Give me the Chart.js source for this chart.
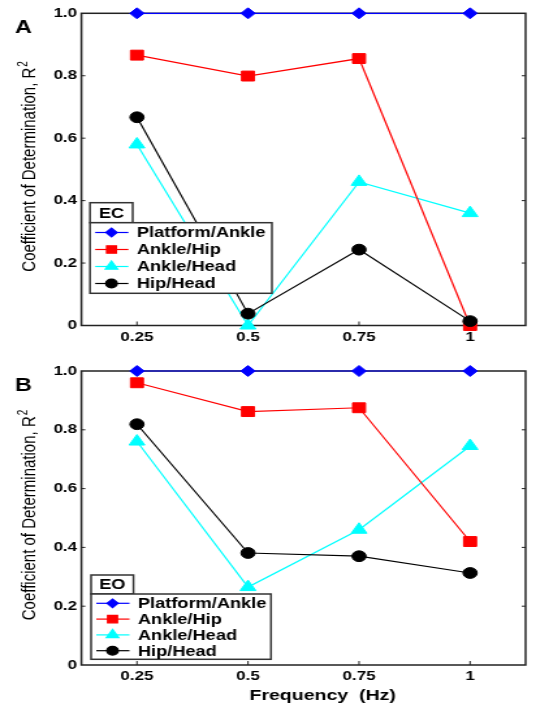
<!DOCTYPE html>
<html>
<head>
<meta charset="utf-8">
<script src="https://cdn.jsdelivr.net/npm/chart.js@4/dist/chart.umd.min.js"></script>
<style>
  html, body { margin: 0; padding: 0; background: #fff; }
  #wrap { position: relative; width: 536px; height: 706px; overflow: hidden; }
  canvas { position: absolute; left: 0; }
</style>
</head>
<body>
<div id="wrap">
  <canvas id="chartA" width="412" height="352" style="top:0;width:536px;height:352px"></canvas>
  <canvas id="chartB" width="412" height="354" style="top:352px;width:536px;height:354px"></canvas>
</div>
<script>
// data
var freqs = [0.25, 0.5, 0.75, 1];
var freqTickLabels = ['0.25', '0.5', '0.75', '1'];
var seriesNames = ['Platform/Ankle', 'Ankle/Hip', 'Ankle/Head', 'Hip/Head'];

// A: eyes closed
var ecPlatformAnkle = [1, 1, 1, 1];
var ecAnkleHip = [0.866, 0.799, 0.855, 0.0];
var ecAnkleHead = [0.58, 0.0, 0.46, 0.36];
var ecHipHead = [0.667, 0.038, 0.243, 0.014];

// B: eyes open
var eoPlatformAnkle = [1, 1, 1, 1];
var eoAnkleHip = [0.96, 0.862, 0.875, 0.42];
var eoAnkleHead = [0.76, 0.265, 0.46, 0.745];
var eoHipHead = [0.819, 0.381, 0.37, 0.313];

var seriesColors = ['#0000ff', '#ff0000', '#00ffff', '#000000'];
var seriesMarkers = ['rectRot', 'rect', 'triangle', 'circle'];
var markerSizes = [5.5, 7, 7, 5.4];
var legendMarkerSizes = [4.3, 5.3, 5.5, 4.4];
var drawOrder = [1, 2, 3, 0];

var FONT = '"Liberation Sans", Arial, Helvetica, sans-serif';
Chart.defaults.font.family = FONT;
Chart.defaults.color = '#000';

function makeDatasets(cols) {
    return seriesNames.map(function (name, i) {
        return {
            label: name,
            data: freqs.map(function (f, j) { return { x: f, y: cols[i][j] }; }),
            borderColor: seriesColors[i],
            backgroundColor: seriesColors[i],
            pointStyle: seriesMarkers[i],
            pointRadius: markerSizes[i],
            pointHoverRadius: markerSizes[i],
            pointBorderWidth: 1,
            borderWidth: 1.2,
            clip: false,
            order: drawOrder[i]
        };
    });
}

// frame + small inner ticks
var framePlugin = {
    id: 'frame',
    beforeDatasetsDraw: function (chart) {
        var a = chart.chartArea, ctx = chart.ctx;
        ctx.save();
        ctx.strokeStyle = '#222';
        ctx.lineWidth = 1.5;
        ctx.strokeRect(a.left, a.top, a.right - a.left, a.bottom - a.top);
        ctx.lineWidth = 1;
        chart.scales.y.ticks.forEach(function (t) {
            if (t.value <= 0 || t.value >= 1) return;
            var y = chart.scales.y.getPixelForValue(t.value);
            ctx.beginPath();
            ctx.moveTo(a.left, y); ctx.lineTo(a.left + 3, y);
            ctx.moveTo(a.right, y); ctx.lineTo(a.right - 3, y);
            ctx.stroke();
        });
        chart.scales.x.ticks.forEach(function (t) {
            var x = chart.scales.x.getPixelForValue(t.value);
            ctx.beginPath();
            ctx.moveTo(x, a.bottom); ctx.lineTo(x, a.bottom - 4);
            ctx.stroke();
        });
        ctx.restore();
    }
};

// panel letter, axis titles and boxed legend
var panelPlugin = {
    id: 'panel',
    afterDatasetsDraw: function (chart, args, opts) {
        var a = chart.chartArea, ctx = chart.ctx;
        ctx.save();
        ctx.fillStyle = '#000';

        ctx.font = 'bold 18px ' + FONT;
        ctx.textAlign = 'center';
        ctx.textBaseline = 'middle';
        ctx.fillText(opts.letter, 18, opts.letterY);

        // y title with superscript
        ctx.save();
        ctx.translate(23, (a.top + a.bottom) / 2 - 3);
        ctx.rotate(-Math.PI / 2);
        var main = 'Coefficient of Determination, R';
        ctx.font = '15px ' + FONT;
        var w1 = ctx.measureText(main).width;
        ctx.font = '10px ' + FONT;
        var w2 = ctx.measureText('2').width;
        var x0 = -(w1 + w2 + 1) / 2;
        ctx.textAlign = 'left';
        ctx.font = '15px ' + FONT;
        ctx.fillText(main, x0, 0);
        ctx.font = '10px ' + FONT;
        ctx.fillText('2', x0 + w1 + 1, -5);
        ctx.restore();

        if (opts.xTitle) {
            ctx.font = 'bold 15px ' + FONT;
            ctx.textAlign = 'center';
            ctx.fillText(opts.xTitle, 248, opts.xTitleY);
        }

        // legend
        var L = opts.legend;
        ctx.lineWidth = 1.5;
        ctx.strokeStyle = '#333';
        ctx.fillStyle = '#fff';
        ctx.fillRect(L.left, L.titleTop, L.titleRight - L.left, L.boxTop - L.titleTop);
        ctx.strokeRect(L.left, L.titleTop, L.titleRight - L.left, L.boxTop - L.titleTop);
        ctx.fillRect(L.left, L.boxTop, L.right - L.left, L.bottom - L.boxTop);
        ctx.strokeRect(L.left, L.boxTop, L.right - L.left, L.bottom - L.boxTop);
        ctx.fillStyle = '#000';
        ctx.font = 'bold 14px ' + FONT;
        ctx.textAlign = 'center';
        ctx.fillText(opts.title, (L.left + L.titleRight) / 2, (L.titleTop + L.boxTop) / 2 + 1);

        ctx.textAlign = 'left';
        chart.data.datasets.forEach(function (ds, i) {
            var y = L.boxTop + L.firstRow + i * L.rowGap;
            ctx.strokeStyle = ds.borderColor;
            ctx.lineWidth = 1.2;
            ctx.beginPath();
            ctx.moveTo(L.left + 4, y); ctx.lineTo(L.left + 29.5, y);
            ctx.stroke();
            ctx.fillStyle = ds.backgroundColor;
            Chart.helpers.drawPoint(ctx, {
                pointStyle: ds.pointStyle, radius: legendMarkerSizes[i], rotation: 0, borderWidth: 1
            }, L.left + 16.5, y);
            ctx.fillStyle = '#000';
            ctx.fillText(ds.label, L.left + 36, y + 1);
        });
        ctx.restore();
    }
};

function buildChart(id, cols, opts) {
    return new Chart(document.getElementById(id), {
        type: 'line',
        data: { datasets: makeDatasets(cols) },
        plugins: [framePlugin, panelPlugin],
        options: {
            responsive: false,
            animation: false,
            layout: { padding: { top: opts.padTop, right: 2.7, left: 0, bottom: 0 } },
            plugins: {
                legend: { display: false },
                tooltip: { enabled: false },
                panel: opts.panel
            },
            scales: {
                x: {
                    type: 'linear',
                    min: 0.125,
                    max: 1.125,
                    afterBuildTicks: function (s) {
                        s.ticks = freqs.map(function (f) { return { value: f }; });
                    },
                    afterFit: function (s) { s.height = opts.xHeight; },
                    grid: { display: false, drawTicks: false },
                    border: { display: false },
                    ticks: {
                        padding: opts.xPad,
                        font: { size: 13, weight: 'bold' },
                        color: '#000',
                        callback: function (v) { return freqTickLabels[freqs.indexOf(v)]; }
                    }
                },
                y: {
                    min: 0,
                    max: 1,
                    afterFit: function (s) { s.width = 62.6; },
                    grid: { display: false, drawTicks: false },
                    border: { display: false },
                    ticks: {
                        stepSize: 0.2,
                        padding: 3.4,
                        font: { size: 13, weight: 'bold' },
                        color: '#000',
                        callback: function (v) { return v === 0 ? '0' : v.toFixed(1); }
                    }
                }
            }
        }
    });
}

buildChart('chartA', [ecPlatformAnkle, ecAnkleHip, ecAnkleHead, ecHipHead], {
    padTop: 13.3, xHeight: 26.5, xPad: 4,
    panel: {
        letter: 'A', letterY: 28, title: 'EC',
        legend: { left: 69.2, titleRight: 102, titleTop: 202.7, boxTop: 222.7, right: 209, bottom: 293.3, firstRow: 9.8, rowGap: 17 }
    }
});

buildChart('chartB', [eoPlatformAnkle, eoAnkleHip, eoAnkleHead, eoHipHead], {
    padTop: 19, xHeight: 41, xPad: 3.5,
    panel: {
        letter: 'B', letterY: 34, title: 'EO', xTitle: 'Frequency  (Hz)', xTitleY: 343.7,
        legend: { left: 70, titleRight: 102.6, titleTop: 223, boxTop: 242, right: 208.3, bottom: 307.3, firstRow: 9.3, rowGap: 15.8 }
    }
});
</script>
</body>
</html>
